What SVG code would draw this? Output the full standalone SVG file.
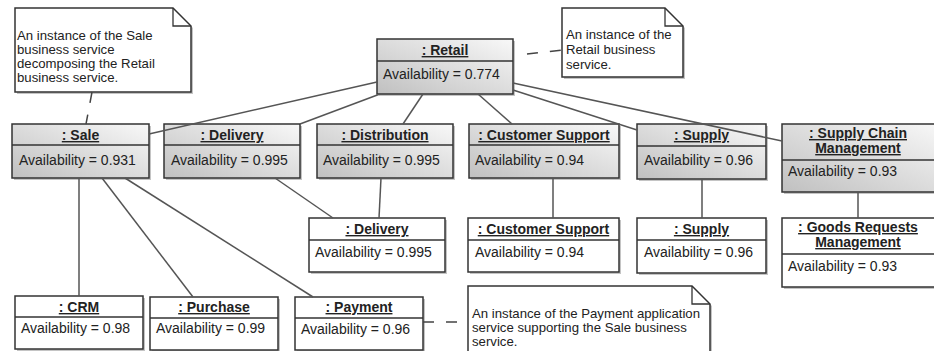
<svg xmlns="http://www.w3.org/2000/svg" width="934" height="351" viewBox="0 0 934 351">
  <style>
    .box { stroke: #333; stroke-width: 1.5; }
    .svc { fill: url(#svcGrad); }
    .app { fill: #ffffff; }
    .shadow { fill: #c4c4c4; }
    .div { stroke: #333; stroke-width: 1.3; }
    .title { font-family: "Liberation Sans", Arial, sans-serif; font-size: 14px; font-weight: bold; fill: #222; text-anchor: middle; text-decoration: underline; }
    .attr { font-family: "Liberation Sans", Arial, sans-serif; font-size: 14px; fill: #222; }
    .note { fill: #fff; stroke: #333; stroke-width: 1.5; }
    .fold { fill: none; stroke: #333; stroke-width: 1.3; }
    .ntext { font-family: "Liberation Sans", Arial, sans-serif; font-size: 13.2px; fill: #222; }
    .link { stroke: #555; stroke-width: 1.5; fill: none; }
    .anchor { stroke: #444; stroke-width: 1.5; fill: none; stroke-dasharray: 11 12; }
  </style>
  <defs>
    <linearGradient id="svcGrad" x1="0" y1="1" x2="1" y2="0">
      <stop offset="0" stop-color="#c0c0c0"/>
      <stop offset="1" stop-color="#f8f8f8"/>
    </linearGradient>
  </defs>
  <rect width="934" height="351" fill="#fff"/>

  <!-- notes -->
  <g id="note-sale">
    <path class="shadow" d="M17,10 H175 L193,28 V94 H17 Z"/>
    <path class="note" d="M15,8 H173 L191,26 V92 H15 Z"/>
    <path class="fold" d="M173,8 V26 H191"/>
    <text class="ntext" x="17" y="40">An instance of the Sale</text>
    <text class="ntext" x="17" y="54">business service</text>
    <text class="ntext" x="17" y="68">decomposing the Retail</text>
    <text class="ntext" x="17" y="82">business service.</text>
  </g>
  <g id="note-retail">
    <path class="shadow" d="M564,10 H667 L685,28 V79 H564 Z"/>
    <path class="note" d="M562,8 H665 L683,26 V77 H562 Z"/>
    <path class="fold" d="M665,8 V26 H683"/>
    <text class="ntext" x="566" y="39">An instance of the</text>
    <text class="ntext" x="566" y="54">Retail business</text>
    <text class="ntext" x="566" y="69">service.</text>
  </g>
  <g id="note-payment">
    <path class="shadow" d="M470,288 H694 L712,306 V362 H470 Z"/>
    <path class="note" d="M468,286 H692 L710,304 V360 H468 Z"/>
    <path class="fold" d="M692,286 V304 H710"/>
    <text class="ntext" x="472" y="318">An instance of the Payment application</text>
    <text class="ntext" x="472" y="332">service supporting the Sale business</text>
    <text class="ntext" x="472" y="346">service.</text>
  </g>

  <!-- business services -->
  <g id="retail">
    <rect class="shadow" x="379" y="41" width="136" height="55"/>
    <rect class="box svc" x="377" y="39" width="136" height="55"/>
    <line class="div" x1="377" y1="61" x2="513" y2="61"/>
    <text class="title" x="445" y="55">: Retail</text>
    <text class="attr" x="383" y="79">Availability = 0.774</text>
  </g>
  <g id="sale">
    <rect class="shadow" x="14" y="126" width="137" height="54"/>
    <rect class="box svc" x="12" y="124" width="137" height="54"/>
    <line class="div" x1="12" y1="145" x2="149" y2="145"/>
    <text class="title" x="80.5" y="140">: Sale</text>
    <text class="attr" x="19" y="165">Availability = 0.931</text>
  </g>
  <g id="delivery">
    <rect class="shadow" x="166" y="126" width="136" height="54"/>
    <rect class="box svc" x="164" y="124" width="136" height="54"/>
    <line class="div" x1="164" y1="145" x2="300" y2="145"/>
    <text class="title" x="232" y="140">: Delivery</text>
    <text class="attr" x="171" y="165">Availability = 0.995</text>
  </g>
  <g id="distribution">
    <rect class="shadow" x="319" y="126" width="136" height="54"/>
    <rect class="box svc" x="317" y="124" width="136" height="54"/>
    <line class="div" x1="317" y1="145" x2="453" y2="145"/>
    <text class="title" x="385" y="140">: Distribution</text>
    <text class="attr" x="323" y="165">Availability = 0.995</text>
  </g>
  <g id="customer-support">
    <rect class="shadow" x="471" y="126" width="150" height="54"/>
    <rect class="box svc" x="469" y="124" width="150" height="54"/>
    <line class="div" x1="469" y1="145" x2="619" y2="145"/>
    <text class="title" x="544" y="140">: Customer Support</text>
    <text class="attr" x="475" y="165">Availability = 0.94</text>
  </g>
  <g id="supply">
    <rect class="shadow" x="639" y="126" width="129" height="55"/>
    <rect class="box svc" x="637" y="124" width="129" height="55"/>
    <line class="div" x1="637" y1="146" x2="766" y2="146"/>
    <text class="title" x="701.5" y="140">: Supply</text>
    <text class="attr" x="644" y="165">Availability = 0.96</text>
  </g>
  <g id="supply-chain-management">
    <rect class="shadow" x="784" y="126" width="160" height="68"/>
    <rect class="box svc" x="782" y="124" width="160" height="68"/>
    <line class="div" x1="782" y1="160" x2="942" y2="160"/>
    <text class="title" x="858" y="138">: Supply Chain</text>
    <text class="title" x="858" y="153">Management</text>
    <text class="attr" x="788" y="176">Availability = 0.93</text>
  </g>

  <!-- application services -->
  <g id="delivery-app">
    <rect class="shadow" x="311" y="220" width="136" height="54"/>
    <rect class="box app" x="309" y="218" width="136" height="54"/>
    <line class="div" x1="309" y1="240" x2="445" y2="240"/>
    <text class="title" x="377" y="234">: Delivery</text>
    <text class="attr" x="315" y="257">Availability = 0.995</text>
  </g>
  <g id="customer-support-app">
    <rect class="shadow" x="470" y="220" width="151" height="54"/>
    <rect class="box app" x="468" y="218" width="151" height="54"/>
    <line class="div" x1="468" y1="240" x2="619" y2="240"/>
    <text class="title" x="543.5" y="234">: Customer Support</text>
    <text class="attr" x="475" y="257">Availability = 0.94</text>
  </g>
  <g id="supply-app">
    <rect class="shadow" x="639" y="220" width="129" height="55"/>
    <rect class="box app" x="637" y="218" width="129" height="55"/>
    <line class="div" x1="637" y1="240" x2="766" y2="240"/>
    <text class="title" x="701.5" y="234">: Supply</text>
    <text class="attr" x="644" y="257">Availability = 0.96</text>
  </g>
  <g id="goods-requests-management">
    <rect class="shadow" x="784" y="220" width="160" height="69"/>
    <rect class="box app" x="782" y="218" width="160" height="69"/>
    <line class="div" x1="782" y1="254" x2="942" y2="254"/>
    <text class="title" x="858" y="232">: Goods Requests</text>
    <text class="title" x="858" y="247">Management</text>
    <text class="attr" x="788" y="271">Availability = 0.93</text>
  </g>
  <g id="crm">
    <rect class="shadow" x="17" y="298" width="128" height="53"/>
    <rect class="box app" x="15" y="296" width="128" height="53"/>
    <line class="div" x1="15" y1="317" x2="143" y2="317"/>
    <text class="title" x="79" y="312">: CRM</text>
    <text class="attr" x="21" y="333">Availability = 0.98</text>
  </g>
  <g id="purchase">
    <rect class="shadow" x="152" y="299" width="128" height="53"/>
    <rect class="box app" x="150" y="297" width="128" height="53"/>
    <line class="div" x1="150" y1="318" x2="278" y2="318"/>
    <text class="title" x="214" y="312">: Purchase</text>
    <text class="attr" x="156" y="333">Availability = 0.99</text>
  </g>
  <g id="payment">
    <rect class="shadow" x="297" y="299" width="128" height="53"/>
    <rect class="box app" x="295" y="297" width="128" height="53"/>
    <line class="div" x1="295" y1="318" x2="423" y2="318"/>
    <text class="title" x="359" y="312">: Payment</text>
    <text class="attr" x="301" y="334">Availability = 0.96</text>
  </g>

  <!-- connectors -->
  <g id="connectors">
    <line class="link" x1="377" y1="82" x2="149" y2="134"/>
    <line class="link" x1="380" y1="94" x2="300" y2="124"/>
    <line class="link" x1="423" y1="94" x2="403" y2="124"/>
    <line class="link" x1="478" y1="94" x2="512" y2="124"/>
    <line class="link" x1="513" y1="90" x2="637" y2="130"/>
    <line class="link" x1="513" y1="83" x2="782" y2="141"/>
    <line class="link" x1="79" y1="178" x2="79" y2="296"/>
    <line class="link" x1="102" y1="178" x2="193" y2="297"/>
    <line class="link" x1="125" y1="178" x2="313" y2="297"/>
    <line class="link" x1="275" y1="178" x2="333" y2="218"/>
    <line class="link" x1="381" y1="178" x2="379" y2="218"/>
    <line class="link" x1="553" y1="178" x2="553" y2="218"/>
    <line class="link" x1="702" y1="179" x2="702" y2="218"/>
    <line class="link" x1="858" y1="192" x2="858" y2="218"/>
    <line class="anchor" x1="92" y1="92" x2="86" y2="124"/>
    <line class="anchor" x1="527" y1="54" x2="562" y2="50"/>
    <line class="anchor" x1="423" y1="322" x2="468" y2="322" stroke-dasharray="0 9 13 11 13"/>
  </g>
</svg>
